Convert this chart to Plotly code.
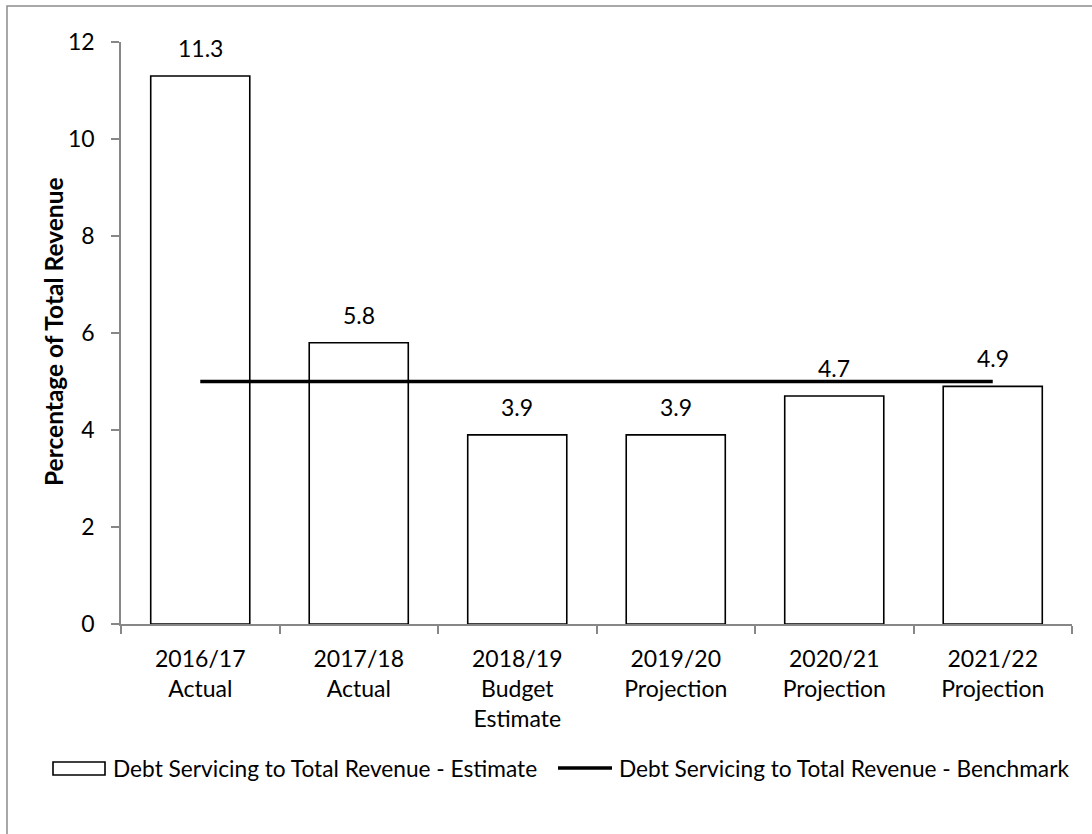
import plotly.graph_objects as go

# Debt servicing as a share of total revenue, by fiscal year
years = ["2016/17", "2017/18", "2018/19", "2019/20", "2020/21", "2021/22"]
stages = ["Actual", "Actual", "Budget<br>Estimate", "Projection", "Projection", "Projection"]
estimate = [11.3, 5.8, 3.9, 3.9, 4.7, 4.9]
benchmark = [5, 5, 5, 5, 5, 5]

y_ticks = [0, 2, 4, 6, 8, 10, 12]
y_title = "Percentage of Total Revenue"
name_estimate = "Debt Servicing to Total Revenue - Estimate"
name_benchmark = "Debt Servicing to Total Revenue - Benchmark"

categories = [f"{y}<br>{s}" for y, s in zip(years, stages)]

W, H = 1092, 834
L, R, T, B = 121, 20, 42, 210
FONT = "Lato"
SIZE = 23
AXIS_GRAY = "#878787"


def px_x(p):
    return (p - L) / (W - L - R)


def px_y(p):
    return (H - B - p) / (H - T - B)


fig = go.Figure()

fig.add_trace(go.Bar(
    x=categories, y=estimate, name=name_estimate,
    marker=dict(color="white", line=dict(color="black", width=1.6)),
    width=0.625, showlegend=False, hoverinfo="x+y",
))

fig.add_trace(go.Scatter(
    x=categories, y=benchmark, name=name_benchmark, mode="lines",
    line=dict(color="black", width=3.5), showlegend=False,
))

# value labels above each bar
for c, v in zip(categories, estimate):
    fig.add_annotation(
        x=c, y=v, text=f"{v:.1f}", showarrow=False,
        yanchor="middle", yshift=28,
        font=dict(family=FONT, size=SIZE, color="black"),
    )

# y-axis title
fig.add_annotation(
    xref="paper", yref="paper", x=px_x(53), y=px_y(332),
    text=f"<b>{y_title}</b>", textangle=-90, showarrow=False,
    xanchor="center", yanchor="middle",
    font=dict(family=FONT, size=24.5, color="black"),
)

# legend: outlined box for the bars, thick stroke for the benchmark
shapes = [
    dict(type="rect", xref="paper", yref="paper",
         x0=px_x(53), x1=px_x(105), y0=px_y(775), y1=px_y(762),
         line=dict(color="black", width=1.6), fillcolor="white"),
    dict(type="line", xref="paper", yref="paper",
         x0=px_x(558), x1=px_x(612), y0=px_y(768), y1=px_y(768),
         line=dict(color="black", width=3.5)),
    # chart frame
    dict(type="rect", xref="paper", yref="paper",
         x0=px_x(7), x1=px_x(W + 20), y0=px_y(H + 20), y1=px_y(6),
         line=dict(color="#8c8c8c", width=1.5), fillcolor="rgba(0,0,0,0)",
         layer="below"),
]
for x_px, txt in [(111, name_estimate), (617, name_benchmark)]:
    fig.add_annotation(
        xref="paper", yref="paper", x=px_x(x_px), y=px_y(768),
        text=txt, showarrow=False, xanchor="left", yanchor="middle",
        font=dict(family=FONT, size=22.7, color="black"),
    )

fig.update_layout(
    width=W, height=H,
    margin=dict(l=L, r=R, t=T, b=B, autoexpand=False),
    paper_bgcolor="white", plot_bgcolor="white",
    font=dict(family=FONT, size=SIZE, color="black"),
    bargap=0.375,
    shapes=shapes,
    showlegend=False,
)

fig.update_xaxes(
    type="category", showline=True, linecolor=AXIS_GRAY, linewidth=1.5,
    ticks="outside", tickson="boundaries", ticklen=8, tickcolor=AXIS_GRAY,
    tickwidth=1.5, showgrid=False, zeroline=False, ticklabelstandoff=14,
    tickfont=dict(family=FONT, size=SIZE, color="black"),
)

fig.update_yaxes(
    range=[0, 12], tickvals=y_ticks, showline=True, linecolor=AXIS_GRAY,
    linewidth=1.5, ticks="outside", ticklen=8, tickcolor=AXIS_GRAY,
    tickwidth=1.5, showgrid=False, zeroline=False, ticklabelstandoff=12,
    tickfont=dict(family=FONT, size=SIZE, color="black"),
)

fig.write_html("out.html")
